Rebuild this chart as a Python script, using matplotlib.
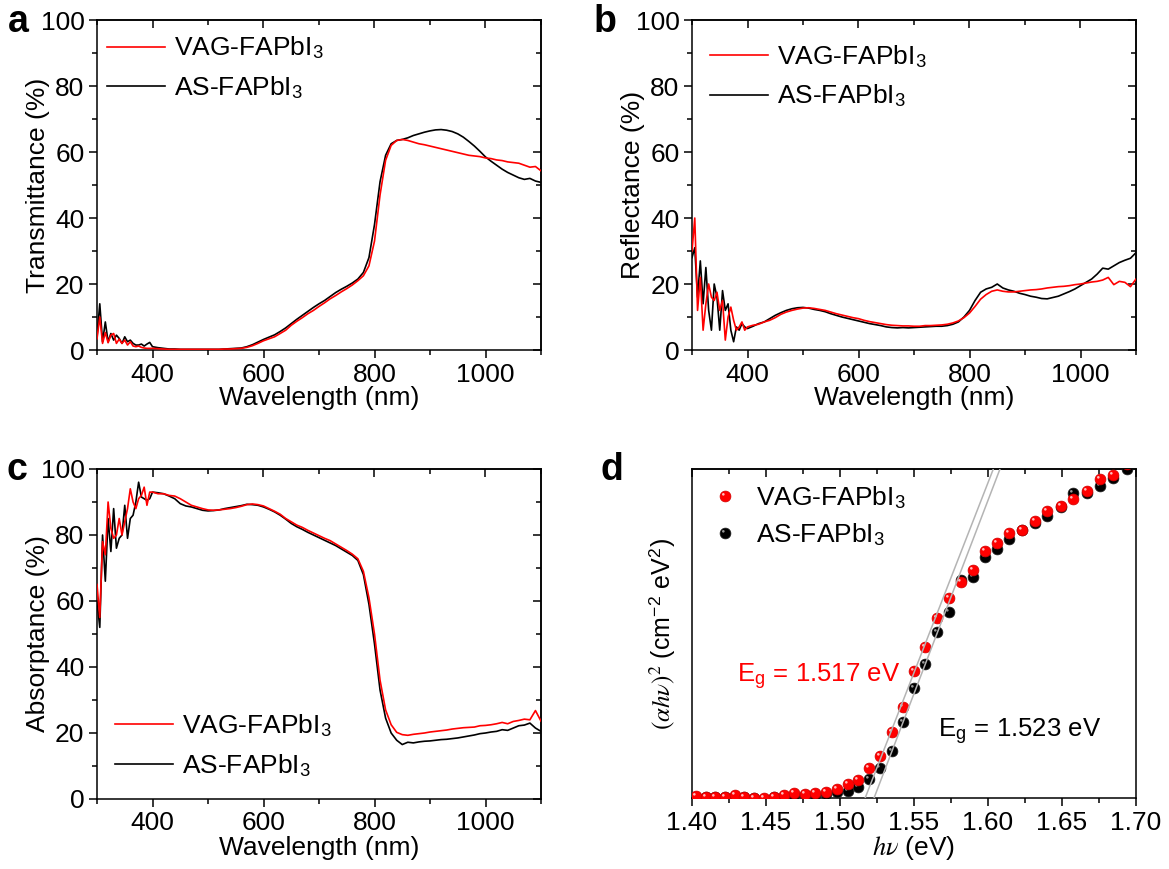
import matplotlib.pyplot as plt
import numpy as np
from matplotlib.ticker import MultipleLocator, NullLocator
from matplotlib.path import Path
from matplotlib.legend_handler import HandlerTuple

plt.rcParams['font.family'] = 'Liberation Sans'
plt.rcParams['mathtext.fontset'] = 'stix'
plt.rcParams['font.size'] = 19

# wavelength grid: 5 nm steps in the noisy UV part, 10 nm afterwards
wavelength = np.concatenate([np.arange(300, 400, 5), np.arange(400, 1101, 10)])

# (a) transmittance (%)
T_vag = [3.4, 10, 2, 5.3, 2.2, 4.5, 5, 2, 3.3, 2, 3, 1.5, 2.5, 1.2, 1.0, 1.2, 0.8, 0.6, 0.5, 0.5,
         0.5, 0.4, 0.3, 0.2, 0.2, 0.2, 0.2, 0.2, 0.2, 0.2, 0.2, 0.2, 0.2, 0.3, 0.3, 0.4, 0.5, 0.8,
         1.3, 2.0, 2.8, 3.4, 4.0, 5.0, 6.0, 7.5, 8.7, 9.8, 11.0, 12.0, 13.2, 14.3, 15.5, 16.5,
         17.6, 18.6, 19.7, 21.0, 22.5, 25.5, 33, 47, 57.5, 62, 63.5, 63.8, 63.5, 63, 62.5, 62.2,
         61.8, 61.4, 61, 60.6, 60.2, 59.8, 59.4, 59.0, 58.8, 58.6, 58.2, 58.0, 57.6, 57.4, 57.0,
         56.8, 56.6, 56.0, 55.4, 55.6, 54.3]
T_as = [4, 14, 2.5, 8.5, 2.5, 5, 3, 4.5, 3.5, 2, 4, 2.5, 3, 2, 1.5, 1.5, 1.8, 1.2, 1.8, 2.3,
        1.0, 0.7, 0.5, 0.3, 0.3, 0.2, 0.2, 0.2, 0.2, 0.2, 0.2, 0.2, 0.2, 0.3, 0.4, 0.5, 0.6, 1.0,
        1.6, 2.4, 3.2, 3.9, 4.6, 5.6, 6.7, 8.0, 9.3, 10.5, 11.7, 12.9, 14.0, 15.0, 16.2, 17.4,
        18.4, 19.3, 20.3, 21.5, 23.5, 28, 38, 51, 59, 62.5, 63.5, 63.8, 64.3, 65, 65.5, 66, 66.4,
        66.7, 66.8, 66.6, 66.2, 65.5, 64.5, 63.2, 61.8, 60.2, 58.5, 57.2, 56.0, 54.8, 53.8, 53.0,
        52.2, 51.7, 52.0, 51.2, 50.8]

# (b) reflectance (%)
R_vag = [30, 40, 12, 22, 6, 14, 20, 16, 15, 17.5, 12, 15, 3, 10, 13, 9, 6, 7, 8.5, 6,
         7, 7.5, 7.8, 8.5, 9, 9.8, 10.8, 11.5, 12, 12.4, 12.7, 12.8, 12.6, 12.3, 12, 11.5, 11,
         10.6, 10.2, 9.8, 9.5, 9.0, 8.6, 8.3, 8, 7.7, 7.5, 7.4, 7.3, 7.3, 7.2, 7.2, 7.4, 7.4, 7.5,
         7.6, 7.8, 8.2, 8.8, 9.8, 11.2, 13.2, 15.4, 16.8, 17.8, 18.2, 17.8, 17.6, 17.6, 17.8, 18,
         18.2, 18.3, 18.5, 18.8, 19.0, 19.2, 19.3, 19.5, 19.8, 20.0, 20.3, 20.6, 20.8, 21.2, 22,
         19.8, 20.8, 20.5, 19.2, 21.5]
R_as = [28, 31, 16, 27, 14, 25, 12, 6, 20, 16, 6, 18, 12, 14, 6, 2.5, 7, 6, 8, 7,
        6.5, 7.2, 8, 8.5, 9.5, 10.5, 11.3, 12, 12.5, 12.8, 12.9, 12.7, 12.3, 12, 11.6, 11, 10.5,
        10.0, 9.6, 9.2, 8.8, 8.4, 8.0, 7.7, 7.4, 7.0, 6.8, 6.7, 6.8, 6.7, 6.8, 6.9, 7.0, 7.1, 7.2,
        7.2, 7.4, 7.8, 8.5, 10, 12, 15, 17.5, 18.5, 19.0, 20.0, 18.8, 18.2, 17.8, 17.2, 16.8,
        16.3, 16.0, 15.6, 15.5, 15.9, 16.3, 17.0, 17.7, 18.5, 19.5, 20.5, 21.5, 23, 24.8, 24.5,
        25.5, 26.5, 27.2, 27.8, 29.5]

# (c) absorptance (%)
A_vag = [65, 55, 78, 74, 90, 82, 79, 80, 85, 80, 84, 88, 94, 90, 88, 91, 92, 94.5, 89, 93,
         93, 92.5, 92.5, 92, 91.8, 91, 90, 89, 88.5, 88, 87.6, 87.5, 87.6, 87.8, 88, 88.3, 88.7,
         89.2, 89.4, 89.2, 88.8, 88, 87.2, 86.3, 85, 84, 83, 82.3, 81.4, 80.6, 79.8, 79, 78.3,
         77.3, 76.3, 75.3, 74.2, 72.8, 69, 61, 50, 36, 27, 22.5, 20.2, 19.5, 19.3, 19.6, 19.8,
         20.0, 20.3, 20.5, 20.7, 20.9, 21.2, 21.4, 21.6, 21.7, 21.8, 22.2, 22.3, 22.5, 22.8, 23.2,
         22.8, 23.5, 23.8, 24.2, 24.0, 26.8, 23.6]
A_as = [60, 52, 80, 66, 85, 75, 88, 76, 79, 80, 89, 79, 85, 86, 90, 96, 91.5, 91, 90.5, 91,
        93, 92.8, 92.5, 91.8, 91, 89.5, 88.8, 88.5, 88, 87.5, 87.3, 87.4, 87.6, 88, 88.3, 88.6,
        88.9, 89.3, 89.2, 89, 88.5, 87.8, 87, 86, 84.8, 83.5, 82.5, 81.7, 80.8, 80, 79.2, 78.4,
        77.6, 76.8, 75.8, 74.8, 73.8, 72.3, 68, 59, 47, 33, 24.5, 20, 17.8, 16.5, 17.2, 17.0,
        17.3, 17.5, 17.6, 17.8, 18.0, 18.1, 18.3, 18.5, 18.8, 19.1, 19.4, 19.8, 20.0, 20.3, 20.5,
        21.0, 20.8, 21.5, 22.2, 22.4, 23.0, 21.5, 20.5]

# (d) Tauc plot, photon energy (eV) and (alpha h nu)^2 in arbitrary units
hv = [1.4027, 1.4092, 1.4155, 1.4223, 1.4291, 1.4354, 1.4421, 1.4489, 1.4556, 1.4624, 1.4691,
      1.4764, 1.4833, 1.4905, 1.4980, 1.5052, 1.5124, 1.5198, 1.5270, 1.5349, 1.5423, 1.5500,
      1.5577, 1.5653, 1.5739, 1.5820, 1.5896, 1.5980, 1.6063, 1.6144, 1.6232, 1.6318, 1.6401,
      1.6491, 1.6577, 1.6667, 1.6757, 1.6847, 1.6937]
tauc_vag = [0.7, 0.4, 0.4, 0.4, 0.9, 0.4, 0.1, -0.1, 0.4, 0.9, 1.4, 1.1, 1.6, 1.7, 2.7, 4.3,
            5.5, 9.0, 12.9, 20.2, 27.8, 38.6, 46.0, 54.6, 60.9, 65.6, 69.3, 75.1, 77.4, 80.6,
            81.6, 84.3, 87.3, 88.9, 90.9, 93.4, 96.9, 98.2, 101.5]
tauc_as = [0.3, 0.2, 0.2, 0.2, 0.5, 0.3, 0.0, -0.2, 0.3, 0.7, 0.9, 0.8, 1.0, 1.2, 1.7, 2.2,
           3.2, 5.7, 9.0, 14.4, 23.0, 33.3, 40.6, 50.4, 56.6, 66.3, 67.3, 73.2, 75.6, 78.6,
           81.5, 83.5, 85.8, 88.6, 92.8, 92.8, 94.8, 97.2, 100.0]
eg_vag, eg_as = 1.517, 1.523
hv_top_vag, hv_top_as = 1.6036, 1.6081   # where the fitted lines leave the top of the frame

RED = '#ff0000'
FS = 19
labels = [r'VAG-FAPbI$_{\mathregular{3}}$', r'AS-FAPbI$_{\mathregular{3}}$']

fig = plt.figure(figsize=(11.69, 8.69), dpi=100)
W, H = 1169, 869


def add_ax(left, top, right, bottom):
    return fig.add_axes([left / W, 1 - bottom / H, (right - left) / W, (bottom - top) / H])


def frame(ax, xmaj, xmin_, ymaj=None, ymin_=None):
    for sp in ax.spines.values():
        sp.set_linewidth(1.1)
    ax.xaxis.set_major_locator(MultipleLocator(xmaj))
    ax.xaxis.set_minor_locator(MultipleLocator(xmin_))
    ax.tick_params(which='both', direction='out', width=1.1, labelsize=FS, pad=3)
    ax.tick_params(which='major', length=6)
    ax.tick_params(which='minor', length=3.5)
    top = ax.secondary_xaxis('top')
    top.xaxis.set_major_locator(MultipleLocator(xmaj))
    top.xaxis.set_minor_locator(MultipleLocator(xmin_))
    top.tick_params(which='both', direction='in', labeltop=False, width=1.1)
    top.tick_params(which='major', length=6)
    top.tick_params(which='minor', length=3.5)
    top.spines['top'].set_linewidth(1.1)
    if ymaj is not None:
        ax.yaxis.set_major_locator(MultipleLocator(ymaj))
        ax.yaxis.set_minor_locator(MultipleLocator(ymin_))
        right = ax.secondary_yaxis('right')
        right.yaxis.set_major_locator(MultipleLocator(ymaj))
        right.yaxis.set_minor_locator(MultipleLocator(ymin_))
        right.tick_params(which='both', direction='in', labelright=False, width=1.1)
        right.tick_params(which='major', length=6)
        right.tick_params(which='minor', length=3.5)
        right.spines['right'].set_linewidth(1.1)


def spectrum_panel(ax, y_vag, y_as, ylabel, legend_anchor):
    ax.plot(wavelength, y_vag, color=RED, lw=1.2, label=labels[0], zorder=3)
    ax.plot(wavelength, y_as, color='black', lw=1.2, label=labels[1], zorder=2)
    ax.set_xlim(300, 1100)
    ax.set_ylim(0, 100)
    frame(ax, 200, 100, 20, 10)
    ax.set_xlabel('Wavelength (nm)', fontsize=FS, labelpad=0)
    ax.set_ylabel(ylabel, fontsize=FS, labelpad=-7)
    ax.legend(loc='upper left', bbox_to_anchor=legend_anchor, frameon=False, fontsize=FS,
              handlelength=2.2, handletextpad=0.35, labelspacing=0.5, borderpad=0,
              borderaxespad=0)


ax_a = add_ax(97, 20, 541, 350)
spectrum_panel(ax_a, T_vag, T_as, 'Transmittance (%)', (0.0225, 0.955))

ax_b = add_ax(692, 20, 1136, 350)
spectrum_panel(ax_b, R_vag, R_as, 'Reflectance (%)', (0.0405, 0.93))

ax_c = add_ax(97, 469, 541, 799)
spectrum_panel(ax_c, A_vag, A_as, 'Absorptance (%)', (0.0405, 0.262))

# (d) Tauc plot with shaded "ball" markers
ax_d = add_ax(692, 469, 1136, 798)
glint = Path.circle(center=(-0.2, 0.2), radius=0.12)
ms = 7.8
h_as, = ax_d.plot(hv, tauc_as, ls='none', marker='o', ms=ms, mfc='black', mec='#222222',
                  mew=0.5, zorder=3)
g_as, = ax_d.plot(hv, tauc_as, ls='none', marker=glint, ms=ms * 0.64, mfc=(1, 1, 1, 0.6),
                  mec='none', zorder=3.1)
h_vag, = ax_d.plot(hv, tauc_vag, ls='none', marker='o', ms=ms, mfc=RED, mec='#d00000',
                   mew=0.5, zorder=4)
g_vag, = ax_d.plot(hv, tauc_vag, ls='none', marker=glint, ms=ms * 0.64, mfc=(1, 1, 1, 0.75),
                   mec='none', zorder=4.1)

# linear fits to the absorption edge
ax_d.plot([eg_vag, hv_top_vag], [0, 100], color='#b4b4b4', lw=1.1, zorder=5)
ax_d.plot([eg_as, hv_top_as], [0, 100], color='#b4b4b4', lw=1.1, zorder=5)

ax_d.set_xlim(1.40, 1.70)
ax_d.set_ylim(0, 100)
frame(ax_d, 0.05, 0.025)
ax_d.yaxis.set_major_locator(NullLocator())
ax_d.yaxis.set_minor_locator(NullLocator())
ax_d.xaxis.set_major_formatter(plt.FuncFormatter(lambda v, p: f'{v:.2f}'))
ax_d.set_xlabel(r'$h\nu$ (eV)', fontsize=FS, labelpad=0)
ax_d.set_ylabel(r'$(\alpha h\nu)^2$ (cm$^{\mathregular{-2}}$ eV$^{\mathregular{2}}$)',
                fontsize=18, labelpad=10)
ax_d.text(1.4304, 35, r'E$_{\mathregular{g}}$ = 1.517 eV', color=RED, fontsize=18.5,
          va='baseline')
ax_d.text(1.5662, 18.5, r'E$_{\mathregular{g}}$ = 1.523 eV', color='black', fontsize=18.5,
          va='baseline')
ax_d.legend([(h_vag, g_vag), (h_as, g_as)], labels, handler_map={tuple: HandlerTuple(ndivide=1)},
            loc='upper left', bbox_to_anchor=(0.047, 0.953), frameon=False, fontsize=FS,
            handlelength=0.95, handletextpad=0.7, labelspacing=0.4, borderpad=0,
            borderaxespad=0)

for letter, x, y in [('a', 8, 32), ('b', 594, 32), ('c', 6, 480), ('d', 600, 480)]:
    fig.text(x / W, 1 - y / H, letter, fontsize=27, fontweight='bold', va='baseline')

fig.savefig('out.png', dpi=100)
